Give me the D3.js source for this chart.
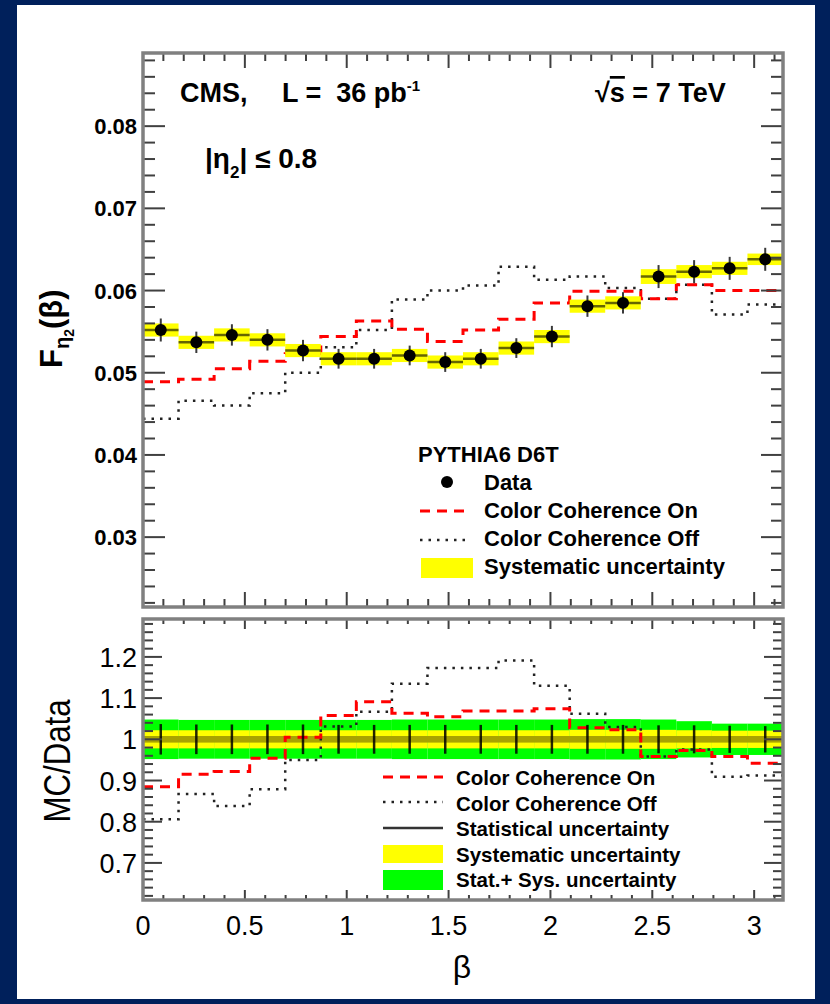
<!DOCTYPE html>
<html>
<head>
<meta charset="utf-8">
<script src="https://cdn.jsdelivr.net/npm/d3@7"></script>
<style>
body { margin: 0; background: #00205b; }
svg text { font-family: "Liberation Sans", Arial, sans-serif; fill: #000; }
.heavy { font-weight: bold; }
</style>
</head>
<body>
<svg id="chart" width="830" height="1004"></svg>
<script>
// ---- data ----
// bin edges in beta (18 bins, 0 .. pi)
var betaEdges = [0, 0.1745, 0.3491, 0.5236, 0.6981, 0.8727, 1.0472, 1.2217, 1.3963, 1.5708,
                 1.7453, 1.9199, 2.0944, 2.2689, 2.4435, 2.6180, 2.7925, 2.9671, 3.1416];

// upper panel: F(beta)
var dataVals = [0.0552, 0.0537, 0.0546, 0.0540, 0.0527, 0.0517, 0.0517, 0.0521, 0.0513,
                0.0517, 0.0530, 0.0544, 0.0581, 0.0585, 0.0617, 0.0623, 0.0627, 0.0638];
var dataStat = [0.0014, 0.0013, 0.0013, 0.0013, 0.0013, 0.0012, 0.0012, 0.0012, 0.0012,
                0.0012, 0.0012, 0.0013, 0.0013, 0.0013, 0.0014, 0.0014, 0.0014, 0.0014];
var dataSys  = [0.0008, 0.0008, 0.0008, 0.0008, 0.0008, 0.0008, 0.0008, 0.0008, 0.0008,
                0.0008, 0.0008, 0.0008, 0.0008, 0.0008, 0.0009, 0.0008, 0.0008, 0.0007];
var ccOn  = [0.0489, 0.0492, 0.0505, 0.0514, 0.0523, 0.0544, 0.0563, 0.0553, 0.0538,
             0.0552, 0.0565, 0.0585, 0.0599, 0.0599, 0.0590, 0.0607, 0.0600, 0.0600];
var ccOff = [0.0444, 0.0466, 0.0460, 0.0475, 0.0500, 0.0531, 0.0552, 0.0589, 0.0600,
             0.0606, 0.0629, 0.0613, 0.0617, 0.0603, 0.0590, 0.0607, 0.0571, 0.0583];

// lower panel: MC/Data
var ratioOn  = [0.885, 0.915, 0.922, 0.954, 1.005, 1.058, 1.091, 1.063, 1.055,
                1.069, 1.069, 1.074, 1.028, 1.023, 0.958, 0.973, 0.958, 0.942];
var ratioOff = [0.806, 0.867, 0.838, 0.879, 0.950, 1.031, 1.067, 1.135, 1.173,
                1.173, 1.191, 1.130, 1.062, 1.030, 0.958, 0.975, 0.909, 0.912];
var ratioStat = [0.037, 0.036, 0.036, 0.036, 0.036, 0.035, 0.035, 0.035, 0.035,
                 0.035, 0.035, 0.035, 0.035, 0.035, 0.034, 0.034, 0.033, 0.032];
var ratioSys  = [0.022, 0.022, 0.022, 0.022, 0.022, 0.022, 0.022, 0.022, 0.022,
                 0.022, 0.022, 0.022, 0.023, 0.023, 0.023, 0.022, 0.021, 0.021];
var ratioTot  = [0.048, 0.047, 0.047, 0.047, 0.047, 0.047, 0.047, 0.048, 0.048,
                 0.048, 0.048, 0.048, 0.049, 0.049, 0.048, 0.044, 0.038, 0.038];

// tick labels
var xTickVals = [0, 0.5, 1, 1.5, 2, 2.5, 3];
var topTickVals = [0.03, 0.04, 0.05, 0.06, 0.07, 0.08];
var lowTickVals = [0.7, 0.8, 0.9, 1, 1.1, 1.2];

var topLegend = ['Data', 'Color Coherence On', 'Color Coherence Off', 'Systematic uncertainty'];
var lowLegend = ['Color Coherence On', 'Color Coherence Off', 'Statistical uncertainty',
                 'Systematic uncertainty', 'Stat.+ Sys. uncertainty'];

// ---- layout ----
var svg = d3.select('#chart');
svg.append('rect').attr('x', 17).attr('y', 5).attr('width', 798).attr('height', 994).attr('fill', '#fff');

var frame = {l: 143, r: 783};
var top_ = {t: 53, b: 607};
var low = {t: 619, b: 900};

var xScale = d3.scaleLinear().domain([0, Math.PI]).range([frame.l, frame.r]);
var yTop = d3.scaleLinear().domain([0.0215, 0.0889]).range([top_.b, top_.t]);
var yLow = d3.scaleLinear().domain([0.610, 1.292]).range([low.b, low.t]);

var bins = d3.range(betaEdges.length - 1);

function stepLine(vals, yScale) {
    var pts = bins.map(function(i) { return [betaEdges[i], vals[i]]; });
    pts.push([betaEdges[bins.length], vals[bins.length - 1]]);
    return d3.line()
        .x(function(d) { return xScale(d[0]); })
        .y(function(d) { return yScale(d[1]); })
        .curve(d3.curveStepAfter)(pts);
}

// ticks point inwards on all four sides
function drawAxes(g, yScale, yMajor, yMinorStep, xLen, yLen) {
    var y0 = yScale.range()[0], y1 = yScale.range()[1];
    var xMinor = d3.range(0.1, 3.15, 0.1);
    var yDom = yScale.domain();
    var yMinor = d3.range(Math.ceil(yDom[0] / yMinorStep) * yMinorStep, yDom[1], yMinorStep);
    var tg = g.append('g').attr('stroke', '#404040').attr('stroke-width', 2);
    xMinor.forEach(function(v) {
        var isMajor = Math.abs(v * 2 - Math.round(v * 2)) < 1e-6;
        var len = isMajor ? xLen[0] : xLen[1];
        tg.append('line').attr('x1', xScale(v)).attr('x2', xScale(v)).attr('y1', y0).attr('y2', y0 - len);
        tg.append('line').attr('x1', xScale(v)).attr('x2', xScale(v)).attr('y1', y1).attr('y2', y1 + len);
    });
    yMinor.forEach(function(v) {
        var isMajor = yMajor.some(function(m) { return Math.abs(m - v) < yMinorStep / 10; });
        var len = isMajor ? yLen[0] : yLen[1];
        tg.append('line').attr('x1', frame.l).attr('x2', frame.l + len).attr('y1', yScale(v)).attr('y2', yScale(v));
        tg.append('line').attr('x1', frame.r).attr('x2', frame.r - len).attr('y1', yScale(v)).attr('y2', yScale(v));
    });
    g.append('rect')
        .attr('x', frame.l).attr('y', y1)
        .attr('width', frame.r - frame.l).attr('height', y0 - y1)
        .attr('fill', 'none').attr('stroke', '#808080').attr('stroke-width', 3.5);
}

// ================= upper panel =================
var topG = svg.append('g');

topG.append('path').attr('d', stepLine(ccOff, yTop))
    .attr('fill', 'none').attr('stroke', '#222').attr('stroke-width', 2.5).attr('stroke-dasharray', '2.5,6');
topG.append('path').attr('d', stepLine(ccOn, yTop))
    .attr('fill', 'none').attr('stroke', '#ff0000').attr('stroke-width', 3).attr('stroke-dasharray', '10,7');

// systematic bands
topG.selectAll('.sys').data(bins).enter().append('rect')
    .attr('x', function(i) { return xScale(betaEdges[i]); })
    .attr('width', function(i) { return xScale(betaEdges[i + 1]) - xScale(betaEdges[i]); })
    .attr('y', function(i) { return yTop(dataVals[i] + dataSys[i]); })
    .attr('height', function(i) { return yTop(dataVals[i] - dataSys[i]) - yTop(dataVals[i] + dataSys[i]); })
    .attr('fill', '#ffff00');

// bin-width bars
topG.selectAll('.hbar').data(bins).enter().append('line')
    .attr('x1', function(i) { return xScale(betaEdges[i]); })
    .attr('x2', function(i) { return xScale(betaEdges[i + 1]); })
    .attr('y1', function(i) { return yTop(dataVals[i]); })
    .attr('y2', function(i) { return yTop(dataVals[i]); })
    .attr('stroke', '#000').attr('stroke-opacity', 0.6).attr('stroke-width', 2.5);

// stat error bars
topG.selectAll('.vbar').data(bins).enter().append('line')
    .attr('x1', function(i) { return xScale((betaEdges[i] + betaEdges[i + 1]) / 2); })
    .attr('x2', function(i) { return xScale((betaEdges[i] + betaEdges[i + 1]) / 2); })
    .attr('y1', function(i) { return yTop(dataVals[i] + dataStat[i]); })
    .attr('y2', function(i) { return yTop(dataVals[i] - dataStat[i]); })
    .attr('stroke', '#3a3a3a').attr('stroke-width', 2);

topG.selectAll('.dot').data(bins).enter().append('circle')
    .attr('cx', function(i) { return xScale((betaEdges[i] + betaEdges[i + 1]) / 2); })
    .attr('cy', function(i) { return yTop(dataVals[i]); })
    .attr('r', 6).attr('fill', '#000');

drawAxes(topG, yTop, topTickVals, 0.002, [15, 8], [22, 12]);

topG.selectAll('.ylab').data(topTickVals).enter().append('text')
    .attr('class', 'heavy')
    .attr('x', 137).attr('y', function(d) { return yTop(d) + 8; })
    .attr('text-anchor', 'end').attr('font-size', 22)
    .text(function(d) { return d3.format('.2f')(d); });

// axis title F_eta2(beta)
var fLab = topG.append('text').attr('class', 'heavy')
    .attr('transform', 'translate(62,368) rotate(-90)').attr('font-size', 31);
fLab.append('tspan').text('F');
fLab.append('tspan').attr('font-size', 20).attr('dy', 7).text('η');
fLab.append('tspan').attr('font-size', 14).attr('dy', 5).text('2');
fLab.append('tspan').attr('dy', -12).text('(β)');

// header texts
topG.append('text').attr('class', 'heavy').attr('x', 180).attr('y', 102).attr('font-size', 27).text('CMS,');
var lumi = topG.append('text').attr('class', 'heavy').attr('x', 282).attr('y', 102)
    .attr('font-size', 27).style('white-space', 'pre');
lumi.append('tspan').text('L =  36 pb');
lumi.append('tspan').attr('font-size', 15).attr('dy', -11).text('-1');

var sqrtS = topG.append('text').attr('class', 'heavy').attr('x', 595).attr('y', 102)
    .attr('font-size', 27).style('white-space', 'pre');
sqrtS.append('tspan').text('√');
sqrtS.append('tspan').style('text-decoration', 'overline').text('s');
sqrtS.append('tspan').text(' = 7 TeV');

var etaCut = topG.append('text').attr('class', 'heavy').attr('x', 205).attr('y', 168).attr('font-size', 28);
etaCut.append('tspan').text('|η');
etaCut.append('tspan').attr('font-size', 17).attr('dy', 10).text('2');
etaCut.append('tspan').attr('dy', -10).text('| ≤ 0.8');

// legend
var lg = topG.append('g');
lg.append('text').attr('class', 'heavy').attr('x', 418).attr('y', 462).attr('font-size', 22).text('PYTHIA6 D6T');
lg.append('circle').attr('cx', 447).attr('cy', 482).attr('r', 6).attr('fill', '#000');
lg.append('line').attr('x1', 420).attr('x2', 468).attr('y1', 511).attr('y2', 511)
    .attr('stroke', '#ff0000').attr('stroke-width', 3).attr('stroke-dasharray', '10,7');
lg.append('line').attr('x1', 420).attr('x2', 468).attr('y1', 540).attr('y2', 540)
    .attr('stroke', '#222').attr('stroke-width', 2.5).attr('stroke-dasharray', '2.5,6');
lg.append('rect').attr('x', 421).attr('y', 558).attr('width', 52).attr('height', 20).attr('fill', '#ffff00');
lg.selectAll('.lt').data(topLegend).enter().append('text')
    .attr('class', 'heavy')
    .attr('x', 484).attr('y', function(d, i) { return 490 + i * 28; })
    .attr('font-size', 22).text(function(d) { return d; });

// ================= lower panel =================
var lowG = svg.append('g');

lowG.selectAll('.tot').data(bins).enter().append('rect')
    .attr('x', function(i) { return xScale(betaEdges[i]); })
    .attr('width', function(i) { return xScale(betaEdges[i + 1]) - xScale(betaEdges[i]); })
    .attr('y', function(i) { return yLow(1 + ratioTot[i]); })
    .attr('height', function(i) { return yLow(1 - ratioTot[i]) - yLow(1 + ratioTot[i]); })
    .attr('fill', '#00ff00');
lowG.selectAll('.rsys').data(bins).enter().append('rect')
    .attr('x', function(i) { return xScale(betaEdges[i]); })
    .attr('width', function(i) { return xScale(betaEdges[i + 1]) - xScale(betaEdges[i]); })
    .attr('y', function(i) { return yLow(1 + ratioSys[i]); })
    .attr('height', function(i) { return yLow(1 - ratioSys[i]) - yLow(1 + ratioSys[i]); })
    .attr('fill', '#ffff00');
lowG.append('rect')
    .attr('x', frame.l).attr('width', frame.r - frame.l)
    .attr('y', yLow(1.008)).attr('height', yLow(0.992) - yLow(1.008))
    .attr('fill', '#a8a300');

lowG.append('path').attr('d', stepLine(ratioOff, yLow))
    .attr('fill', 'none').attr('stroke', '#222').attr('stroke-width', 2.5).attr('stroke-dasharray', '2.5,6');
lowG.append('path').attr('d', stepLine(ratioOn, yLow))
    .attr('fill', 'none').attr('stroke', '#ff0000').attr('stroke-width', 3).attr('stroke-dasharray', '10,7');

lowG.selectAll('.rstat').data(bins).enter().append('line')
    .attr('x1', function(i) { return xScale((betaEdges[i] + betaEdges[i + 1]) / 2); })
    .attr('x2', function(i) { return xScale((betaEdges[i] + betaEdges[i + 1]) / 2); })
    .attr('y1', function(i) { return yLow(1 + ratioStat[i]); })
    .attr('y2', function(i) { return yLow(1 - ratioStat[i]); })
    .attr('stroke', '#000').attr('stroke-opacity', 0.85).attr('stroke-width', 2.5);

drawAxes(lowG, yLow, lowTickVals, 0.02, [10, 5], [19, 10]);

lowG.selectAll('.ylab').data(lowTickVals).enter().append('text')
    .attr('x', 137).attr('y', function(d) { return yLow(d) + 10; })
    .attr('text-anchor', 'end').attr('font-size', 27)
    .text(function(d) { return d3.format('~g')(d); });

lowG.selectAll('.xlab').data(xTickVals).enter().append('text')
    .attr('x', function(d) { return xScale(d); }).attr('y', 935)
    .attr('text-anchor', 'middle').attr('font-size', 27)
    .text(function(d) { return d3.format('~g')(d); });

lowG.append('text').attr('x', 462).attr('y', 978)
    .attr('text-anchor', 'middle').attr('font-size', 32).text('β');

lowG.append('text')
    .attr('transform', 'translate(70,761) rotate(-90)')
    .attr('text-anchor', 'middle').attr('font-size', 36)
    .attr('textLength', 123).attr('lengthAdjust', 'spacingAndGlyphs')
    .text('MC/Data');

// lower legend
var lg2 = lowG.append('g');
lg2.append('line').attr('x1', 383).attr('x2', 443).attr('y1', 777).attr('y2', 777)
    .attr('stroke', '#ff0000').attr('stroke-width', 3).attr('stroke-dasharray', '10,7');
lg2.append('line').attr('x1', 383).attr('x2', 443).attr('y1', 802).attr('y2', 802)
    .attr('stroke', '#222').attr('stroke-width', 2.5).attr('stroke-dasharray', '2.5,6');
lg2.append('line').attr('x1', 383).attr('x2', 443).attr('y1', 828).attr('y2', 828)
    .attr('stroke', '#333').attr('stroke-width', 2.5);
lg2.append('rect').attr('x', 383).attr('y', 845).attr('width', 60).attr('height', 18).attr('fill', '#ffff00');
lg2.append('rect').attr('x', 383).attr('y', 870).attr('width', 60).attr('height', 20).attr('fill', '#00ff00');
lg2.selectAll('.lt').data(lowLegend).enter().append('text')
    .attr('class', 'heavy')
    .attr('x', 456).attr('y', function(d, i) { return 785 + i * 25.5; })
    .attr('font-size', 20.5).text(function(d) { return d; });
</script>
</body>
</html>
